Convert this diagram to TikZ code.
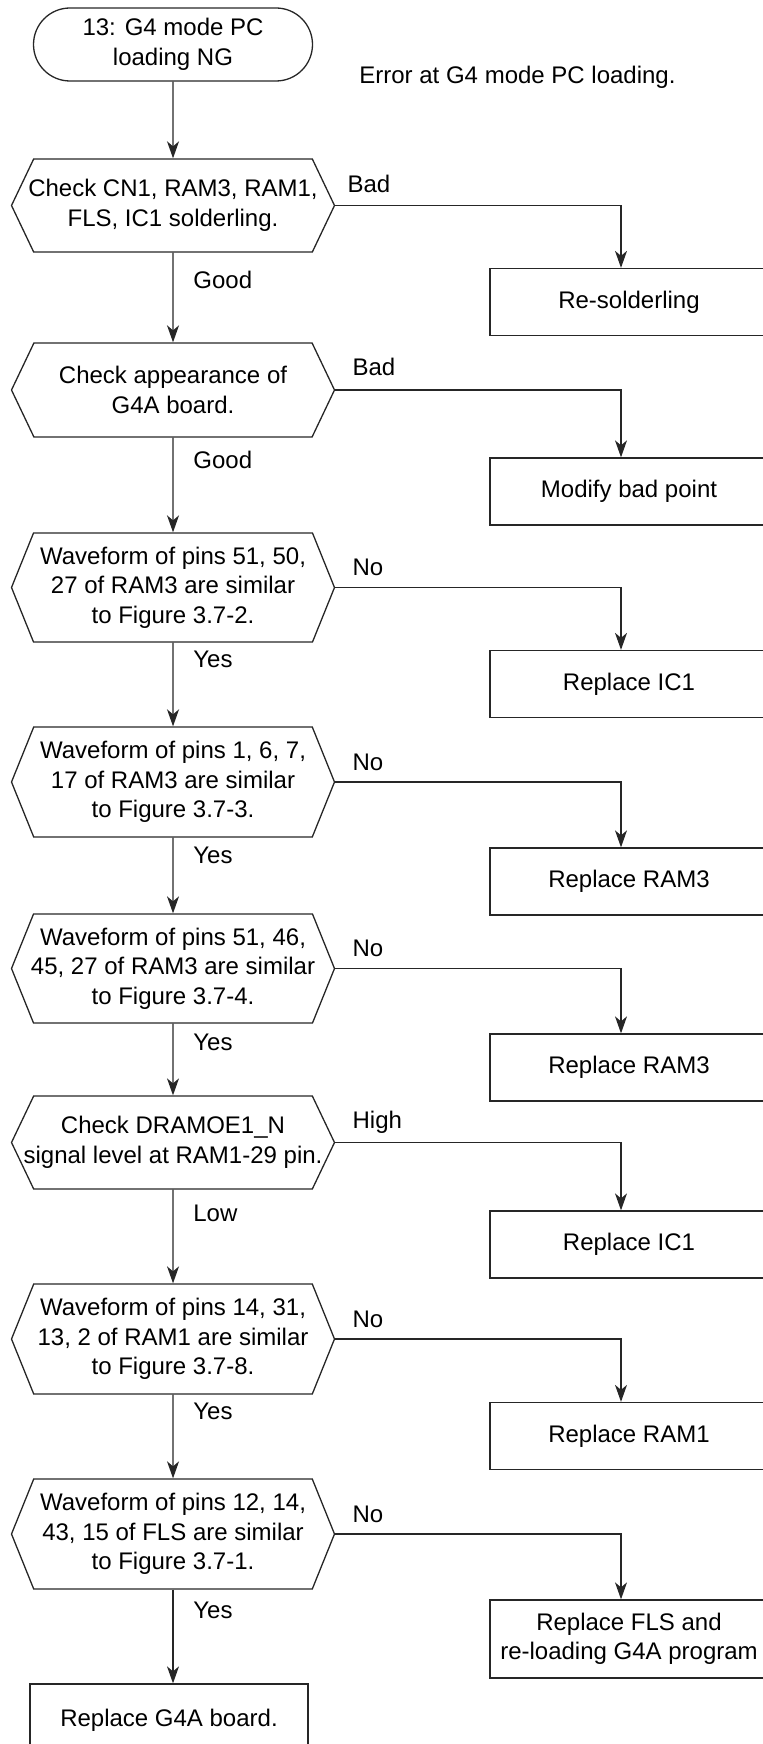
\documentclass[tikz,border=0pt]{standalone}
\usepackage{fontspec}
\setmainfont{Liberation Sans}
\usetikzlibrary{positioning,calc,arrows.meta,shapes.misc,shapes.symbols}
\tikzset{%
  flow/.style = {
    -{Stealth[length = 8.5pt, width = 6pt, inset = 2.5pt]},
    draw = black!85,
    line width = 0.65pt,
  },
  terminal/.style = {
    rounded rectangle,
    draw = black!85,
    line width = 0.65pt,
    align = center,
    inner sep = 0pt,
    minimum width = 139.5pt,
    minimum height = 36.5pt,
  },
  query/.style 2 args = {
    signal,
    signal to = west and east,
    signal pointer angle = #2,
    draw = black!85,
    line width = 0.65pt,
    align = center,
    inner sep = 0pt,
    minimum width = 161.5pt,
    minimum height = #1,
  },
  action/.style = {
    rectangle,
    draw = black!85,
    line width = 0.65pt,
    align = center,
    inner sep = 0pt,
    minimum width = 139pt,
    minimum height = 33.5pt,
  },
  tag/.style = {
    inner sep = 0pt,
    text height = 8pt,
    text depth = 0pt,
  },
}

\begin{document}
\begin{tikzpicture}[
    x = 0.5pt,
    y = -0.5pt,
    font = \fontsize{12pt}{14.75pt}\selectfont,
  ]
  \clip (0,0) rectangle (763,1744);

  % main column
  \node[terminal] (start) at (173,44.5) {13: G4 mode PC\\loading NG};
  \node[anchor = west, inner sep = 0pt] (note) at (359,77) {Error at G4 mode PC loading.};
  \node[query = {46.5pt}{129}] (solder) at (173,205.5)
    {\makebox[0pt]{Check CN1, RAM3, RAM1,}\\FLS, IC1 solderling.};
  \node[query = {47pt}{129}] (look) at (173,390) {Check appearance of\\G4A board.};
  \node[query = {54.5pt}{136}] (wave1) at (173,587.5)
    {Waveform of pins 51, 50,\\27 of RAM3 are similar\\to Figure 3.7-2.};
  \node[query = {55pt}{136}] (wave2) at (173,782)
    {Waveform of pins 1, 6, 7,\\17 of RAM3 are similar\\to Figure 3.7-3.};
  \node[query = {54.5pt}{136}] (wave3) at (173,968.5)
    {Waveform of pins 51, 46,\\\makebox[0pt]{45, 27 of RAM3 are similar}\\to Figure 3.7-4.};
  \node[query = {46.5pt}{129}] (oelevel) at (173,1142.5)
    {Check DRAMOE1\_N\\\makebox[0pt]{signal level at RAM1-29 pin.}};
  \node[query = {55pt}{136}] (wave4) at (173,1339)
    {Waveform of pins 14, 31,\\13, 2 of RAM1 are similar\\to Figure 3.7-8.};
  \node[query = {55pt}{136}] (wave5) at (173,1534)
    {Waveform of pins 12, 14,\\43, 15 of FLS are similar\\to Figure 3.7-1.};
  \node[action, minimum height = 36pt] (newboard) at (169,1720) {Replace G4A board.};

  % repair boxes
  \node[action] (fixsolder) at (629,302) {Re-solderling};
  \node[action] (fixlook) at (629,491.5) {Modify bad point};
  \node[action] (newic1) at (629,684) {Replace IC1};
  \node[action] (newram3) at (629,881.5) {Replace RAM3};
  \node[action] (newram3b) at (629,1067.5) {Replace RAM3};
  \node[action] (newic1b) at (629,1244.5) {Replace IC1};
  \node[action] (newram1) at (629,1436) {Replace RAM1};
  \node[action, minimum height = 39pt] (newfls) at (629,1639)
    {Replace FLS and\\re-loading G4A program};

  % pass branch
  \draw[flow] (start) -- (solder);
  \draw[flow] (solder) -- (look);
  \draw[flow] (look) -- (wave1);
  \draw[flow] (wave1) -- (wave2);
  \draw[flow] (wave2) -- (wave3);
  \draw[flow] (wave3) -- (oelevel);
  \draw[flow] (oelevel) -- (wave4);
  \draw[flow] (wave4) -- (wave5);
  \draw[flow] (wave5.south) -- (wave5.south |- newboard.north);

  % fail branch
  \draw[flow] (solder.east) -| ([xshift = -4pt]fixsolder.north);
  \draw[flow] (look.east) -| ([xshift = -4pt]fixlook.north);
  \draw[flow] (wave1.east) -| ([xshift = -4pt]newic1.north);
  \draw[flow] (wave2.east) -| ([xshift = -4pt]newram3.north);
  \draw[flow] (wave3.east) -| ([xshift = -4pt]newram3b.north);
  \draw[flow] (oelevel.east) -| ([xshift = -4pt]newic1b.north);
  \draw[flow] (wave4.east) -| ([xshift = -4pt]newram1.north);
  \draw[flow] (wave5.east) -| ([xshift = -4pt]newfls.north);

  % branch labels
  \node[tag, right = 6pt of solder.east, yshift = 10.5pt] {Bad};
  \node[tag, right = 10pt of solder.south, yshift = -14pt] {Good};
  \node[tag, right = 8.5pt of look.east, yshift = 11.5pt] {Bad};
  \node[tag, right = 10pt of look.south, yshift = -11.5pt] {Good};
  \node[tag, right = 8.5pt of wave1.east, yshift = 10pt] {No};
  \node[tag, right = 10pt of wave1.south, yshift = -8.5pt] {Yes};
  \node[tag, right = 8.5pt of wave2.east, yshift = 10pt] {No};
  \node[tag, right = 10pt of wave2.south, yshift = -9pt] {Yes};
  \node[tag, right = 8.5pt of wave3.east, yshift = 10pt] {No};
  \node[tag, right = 10pt of wave3.south, yshift = -9.5pt] {Yes};
  \node[tag, right = 8.5pt of oelevel.east, yshift = 11pt] {High};
  \node[tag, right = 10pt of oelevel.south, yshift = -12pt] {Low};
  \node[tag, right = 8.5pt of wave4.east, yshift = 10pt] {No};
  \node[tag, right = 10pt of wave4.south, yshift = -8.5pt] {Yes};
  \node[tag, right = 8.5pt of wave5.east, yshift = 10pt] {No};
  \node[tag, right = 10pt of wave5.south, yshift = -10.5pt] {Yes};
\end{tikzpicture}
\end{document}
